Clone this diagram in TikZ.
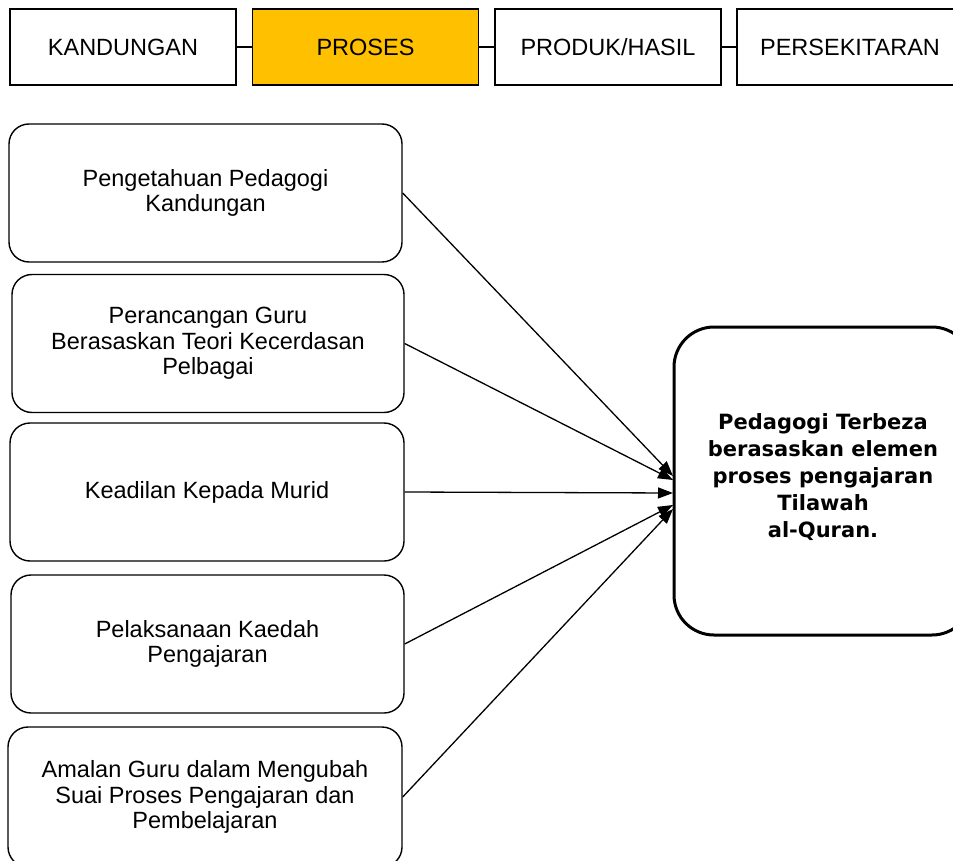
\documentclass[tikz,border=0pt]{standalone}
\usepackage{fontspec}
\setmainfont{Liberation Sans}
\newfontfamily\boldfam{DejaVu Sans}
\usetikzlibrary{arrows.meta}
\definecolor{prosesgold}{RGB}{255,192,0}
\begin{document}
\begin{tikzpicture}[x=1pt,y=-1pt,
  topbox/.style={draw=black,line width=1.4pt,minimum width=226pt,minimum height=76pt,inner sep=0pt,text height=17pt,text depth=0pt,font=\fontsize{23.5}{26}\selectfont},
  leftbox/.style={draw=black,line width=1.4pt,rounded corners=20pt,align=center,inner sep=0pt,font=\fontsize{23.5}{25.5}\selectfont},
  bigbox/.style={draw=black,line width=3pt,rounded corners=40pt,inner sep=0pt},
  bigtext/.style={align=center,inner sep=0pt,font=\boldfam\bfseries\fontsize{21}{27}\selectfont},
  link/.style={line width=1.3pt},
  arr/.style={line width=1.3pt,-{Triangle[length=15pt,width=11pt]}}]
\useasboundingbox (0,0) rectangle (953,861);
\fill[white] (0,0) rectangle (953,861);
% top row
\node[topbox] (k) at (123,47) {KANDUNGAN};
\node[topbox,fill=prosesgold] (p) at (365.5,47) {PROSES};
\node[topbox] (h) at (608,47) {PRODUK/HASIL};
\node[topbox] (s) at (850,47) {PERSEKITARAN};
\draw[link] (k.east) -- (p.west);
\draw[link] (p.east) -- (h.west);
\draw[link] (h.east) -- (s.west);
% left boxes
\node[leftbox,minimum width=393pt,minimum height=138pt] (b1) at (205.5,193) {Pengetahuan Pedagogi\\Kandungan};
\node[leftbox,minimum width=392pt,minimum height=138pt] (b2) at (208,343.5) {Perancangan Guru\\Berasaskan Teori Kecerdasan\\Pelbagai};
\node[leftbox,minimum width=394pt,minimum height=138pt] (b3) at (207,492) {Keadilan Kepada Murid};
\node[leftbox,minimum width=393pt,minimum height=138pt] (b4) at (207.5,644) {Pelaksanaan Kaedah\\Pengajaran};
\node[leftbox,minimum width=394pt,minimum height=140pt] (b5) at (205,797) {Amalan Guru dalam Mengubah\\Suai Proses Pengajaran dan\\Pembelajaran};
% right box
\node[bigbox,minimum width=298pt,minimum height=308pt] (r) at (823,481) {};
\node[bigtext] (rt) at (823,477) {Pedagogi Terbeza\\ berasaskan elemen\\ proses pengajaran\\Tilawah\\al-Quran.};
% arrow targets
\coordinate (t1) at (673,476);
\coordinate (t2) at (673,480);
\coordinate (t3) at (673,493);
\coordinate (t4) at (673,505);
\coordinate (t5) at (673,509);
\draw[arr] (b1.east) -- (t1);
\draw[arr] (b2.east) -- (t2);
\draw[arr] (b3.east) -- (t3);
\draw[arr] (b4.east) -- (t4);
\draw[arr] (b5.east) -- (t5);
\end{tikzpicture}
\end{document}
